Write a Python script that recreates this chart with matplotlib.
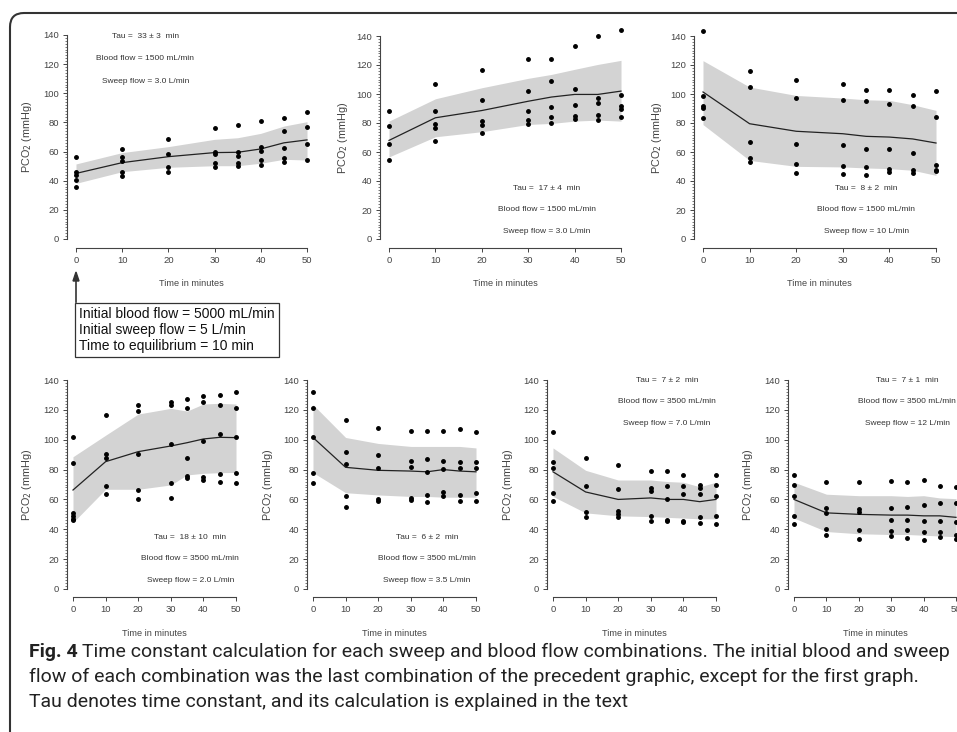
import matplotlib
matplotlib.use("Agg")
import matplotlib.pyplot as plt
from matplotlib.patches import FancyBboxPatch
from matplotlib.transforms import IdentityTransform
from matplotlib.ticker import MultipleLocator

plt.rcParams['font.family'] = ['Liberation Sans', 'DejaVu Sans']

W, H = 957, 732
minutes = [0, 10, 20, 30, 35, 40, 45, 50]

# panel 1 : blood 1500, sweep 3.0 (from 5000 / 5)
p1_mean = [45, 52.4, 56.5, 59.3, 59.5, 61.8, 66, 68]
p1_high = [51.5, 59.3, 63.4, 68.4, 69.5, 72.5, 77.5, 80.5]
p1_low = [38.2, 46.2, 49.2, 50.3, 50.3, 52, 54.7, 54.2]
p1_dots = [[56.5, 46.2, 44, 40.5, 36], [61.8, 56.5, 53.5, 45.8, 43.2], [68.4, 58.3, 49.6, 46.2],
           [76, 60, 58.3, 52, 49.6], [78.2, 60, 57.2, 52, 50.3], [81.2, 62.9, 60.6, 54.2, 51],
           [83.3, 74.4, 62.2, 55.8, 52.6], [87.2, 76.6, 65.2, 54.2]]

# panel 2 : blood 1500, sweep 3.0
p2_mean = [68, 83.6, 88.6, 95, 97.9, 99.7, 99.7, 102]
p2_high = [81.3, 96.7, 104.3, 110.8, 113.5, 117, 120.4, 123.2]
p2_low = [56.6, 70.5, 74, 79, 79.7, 81.3, 82, 81.3]
p2_dots = [[88.2, 77.8, 65.6, 54.8], [107, 88.2, 79, 76.7, 67.5], [116.3, 96.2, 81.3, 78.5, 73.2],
           [123.9, 102, 88.2, 82, 79], [123.9, 108.9, 91, 84.3, 79.7], [133, 103.2, 92.3, 84.7, 82.9],
           [140, 97, 94, 85.2, 82], [144, 99, 91.6, 89.8, 84]]

# panel 3 : blood 1500, sweep 10
p3_mean = [101.4, 79.5, 74.3, 72.6, 70.8, 70.3, 69, 66.2]
p3_high = [123, 104.8, 99, 97.2, 96, 95.6, 92.6, 88.7]
p3_low = [78.9, 54.2, 50.1, 49.7, 49, 48.5, 47.4, 43.9]
p3_dots = [[143.7, 98.9, 92, 90.3, 83.4], [115.6, 104.8, 66.7, 55.9, 52.9], [109.9, 97.2, 65.7, 52, 45.5],
           [106.9, 96, 65, 50.6, 45.1], [103, 95, 62, 49.7, 44.4], [103, 93.1, 62, 48.5, 46],
           [99.5, 92, 59.3, 47.4, 45.5], [101.8, 83.9, 50.8, 47.8, 46.7]]

# panel 4 : blood 3500, sweep 2.0
p4_mean = [66.3, 85.3, 92, 95.8, 98, 100.5, 101.6, 101.4]
p4_high = [88.6, 103, 117.2, 121, 119.2, 123.9, 124.4, 123.9]
p4_low = [44.5, 66.8, 66.8, 69.7, 76.4, 77.5, 77.9, 78.1]
p4_dots = [[102, 84.2, 51, 48.7, 47.1, 46.5], [116.5, 90.6, 87.5, 68.7, 63.8], [123, 119, 90.5, 66.5, 60],
           [125, 123.5, 97, 71, 61], [127, 121, 88, 76, 74.5], [129, 125, 99, 75, 73],
           [130, 123, 104, 77, 72], [132, 121, 102, 78, 71]]

# panel 5 : blood 3500, sweep 3.5
p5_mean = [101.5, 81.5, 79.5, 79, 78.5, 80, 79, 78.5]
p5_high = [123.5, 101.5, 97.5, 95.5, 95.5, 95.5, 95.5, 94.5]
p5_low = [78, 64.5, 63, 62, 62, 61.5, 61.5, 61.5]
p5_dots = [[132, 121, 102, 78, 71], [113, 92, 84, 62.5, 55], [108, 89.5, 81, 60, 59],
           [106, 85.5, 81.5, 61, 59.5], [106, 87, 78.5, 63, 58], [106, 85.5, 80.5, 65, 62.5],
           [107, 85, 81, 63, 59], [105, 85, 81, 64, 59]]

# panel 6 : blood 3500, sweep 7.0
p6_mean = [78.5, 65, 60, 61, 60, 60, 58.5, 60]
p6_high = [94.5, 79.5, 73, 73, 72, 71.5, 68.5, 71.5]
p6_low = [62, 51, 49, 48.5, 48, 47.5, 47, 47]
p6_dots = [[105, 85, 81, 64, 59], [88, 69, 51.5, 48], [83, 67, 52.5, 50.5, 48.5],
           [79, 67.5, 65.5, 49, 45.5], [79, 69, 60, 46.5, 45.5], [76.5, 69, 63.5, 45.5, 45],
           [70, 67.5, 63.5, 48, 44.5], [76.5, 69.5, 62, 49, 43.5]]

# panel 7 : blood 3500, sweep 12
p7_mean = [60, 51, 50, 49.5, 49.5, 49, 49, 48]
p7_high = [71.5, 63.5, 62.5, 62.5, 62, 62.5, 61, 60.5]
p7_low = [47.5, 38.5, 37, 36.5, 36.5, 36, 35.5, 35]
p7_dots = [[76.5, 69.5, 62, 49, 43.5], [72, 54.5, 51, 40.5, 36.5], [71.5, 53.5, 51.5, 39.5, 33.5],
           [72.5, 54.5, 46.5, 39, 35.5], [71.5, 55, 46.5, 39.5, 34], [73, 56, 45.5, 38, 33],
           [69, 57.5, 45.5, 38, 35], [68, 57.5, 45, 36.5, 33.5]]

taus = ["33 ± 3", "17 ± 4", "8 ± 2", "18 ± 10", "6 ± 2", "7 ± 2", "7 ± 1"]
blood = ["1500", "1500", "1500", "3500", "3500", "3500", "3500"]
sweep = ["3.0", "3.0", "10", "2.0", "3.5", "7.0", "12"]

# pixel boxes: x at t=0, x at t=50, y at 0 mmHg, y at 140 mmHg
boxes = [(76, 307, 239, 35), (389, 621, 239, 36), (703, 936, 239, 36),
         (73, 236, 589, 380), (313, 476, 589, 380), (553, 716, 589, 380), (794, 956, 589, 380)]
ylab_x = [27, 343, 657, 27, 268, 508, 748]
# where the three text lines sit (data coords): x, first y, step
text_pos = [(15, 139, 15.3), (34, 34.7, 14.6), (35, 34.7, 14.6), (36, 34.8, 14.7),
            (35, 34.8, 14.7), (35, 140, 14.7), (35, 140, 14.7)]

panels = [(p1_mean, p1_high, p1_low, p1_dots), (p2_mean, p2_high, p2_low, p2_dots),
          (p3_mean, p3_high, p3_low, p3_dots), (p4_mean, p4_high, p4_low, p4_dots),
          (p5_mean, p5_high, p5_low, p5_dots), (p6_mean, p6_high, p6_low, p6_dots),
          (p7_mean, p7_high, p7_low, p7_dots)]

fig = plt.figure(figsize=(W / 100, H / 100), dpi=100)
gray = '#444444'

for i in range(7):
    mean, high, low, dots = panels[i]
    x0, x50, y0, y140 = boxes[i]
    ax = fig.add_axes([x0 / W, 1 - y0 / H, (x50 - x0) / W, (y0 - y140) / H])
    ax.set_xlim(0, 50)
    ax.set_ylim(0, 140)
    ax.patch.set_alpha(0)
    ax.fill_between(minutes, low, high, color='#d3d3d3', lw=0, clip_on=False)
    ax.plot(minutes, mean, color='#222222', lw=0.9, clip_on=False)
    for t, vals in zip(minutes, dots):
        ax.plot([t] * len(vals), vals, 'o', ms=2.5, color='black', clip_on=False)

    for s in ['top', 'right']:
        ax.spines[s].set_visible(False)
    if i < 3:
        ax.spines['left'].set_position(('outward', 6.5))
        ax.spines['bottom'].set_position(('outward', 6.5))
    else:
        ax.spines['left'].set_position(('outward', 4.5))
        ax.spines['bottom'].set_position(('outward', 6))
    ax.spines['left'].set_bounds(0, 140)
    ax.spines['bottom'].set_bounds(0, 50)
    for s in ['left', 'bottom']:
        ax.spines[s].set_color(gray)
        ax.spines[s].set_linewidth(0.8)
    ax.set_xticks([0, 10, 20, 30, 40, 50])
    ax.set_yticks(range(0, 141, 20))
    ax.yaxis.set_minor_locator(MultipleLocator(2))
    ax.tick_params(which='major', length=3, width=0.7, color=gray, labelsize=6.8,
                   labelcolor='#444444', pad=2.5)
    ax.tick_params(which='minor', length=1.6, width=0.5, color=gray)

    ax.set_ylabel('PCO$_2$ (mmHg)', fontsize=7.8, color='#444444', va='center')
    ax.set_xlabel('Time in minutes', fontsize=6.6, color='#444444', va='center')
    pw = x50 - x0
    ph = y0 - y140
    ax.yaxis.set_label_coords((ylab_x[i] - x0) / pw, 0.5)
    ax.xaxis.set_label_coords(0.5, (y0 - (284 if i < 3 else 634)) / ph)

    tx, ty, step = text_pos[i]
    ax.text(tx, ty, "Tau =  " + taus[i] + "  min", fontsize=6, color='#333333', ha='center', va='center')
    ax.text(tx, ty - step, "Blood flow = " + blood[i] + " mL/min", fontsize=6, color='#333333',
            ha='center', va='center')
    ax.text(tx, ty - 2 * step, "Sweep flow = " + sweep[i] + " L/min", fontsize=6, color='#333333',
            ha='center', va='center')

# arrow and initial conditions box
fig.add_artist(plt.Line2D([76 / W, 76 / W], [1 - 302 / H, 1 - 280 / H], color='#333333', lw=1.2))
fig.patches.append(plt.Polygon([[76 / W, 1 - 272 / H], [73 / W, 1 - 281 / H], [79 / W, 1 - 281 / H]],
                               closed=True, color='#333333', transform=fig.transFigure))
fig.text(79 / W, 1 - 330 / H,
         "Initial blood flow = 5000 mL/min\nInitial sweep flow = 5 L/min\nTime to equilibrium = 10 min",
         fontsize=10, va='center', ha='left', color='#111111', linespacing=1.18,
         bbox=dict(boxstyle='square,pad=0.3', fc='white', ec='#333333', lw=0.9))

# rounded frame
frame = FancyBboxPatch((10, -20), 980, H - 13 + 20, boxstyle='round,pad=0,rounding_size=14',
                       transform=IdentityTransform(), fc='none', ec='#333333', lw=1.5)
fig.patches.append(frame)

# caption
cap_font = ['Roboto', 'DejaVu Sans']
cap_size = 14
r = fig.canvas.get_renderer()
t1 = fig.text(29 / W, 1 - 652 / H, 'Fig. 4', fontsize=cap_size, weight='bold', family=cap_font,
              va='center', ha='left', color='#222222')
bb = t1.get_window_extent(r)
fig.text(bb.x1 / W + 4 / W, 1 - 652 / H,
         'Time constant calculation for each sweep and blood flow combinations. The initial blood and sweep',
         fontsize=cap_size, family=cap_font, va='center', ha='left', color='#222222')
fig.text(29 / W, 1 - 677 / H,
         'flow of each combination was the last combination of the precedent graphic, except for the first graph.',
         fontsize=cap_size, family=cap_font, va='center', ha='left', color='#222222')
fig.text(29 / W, 1 - 702 / H,
         'Tau denotes time constant, and its calculation is explained in the text',
         fontsize=cap_size, family=cap_font, va='center', ha='left', color='#222222')

fig.savefig('out.png', dpi=100)
